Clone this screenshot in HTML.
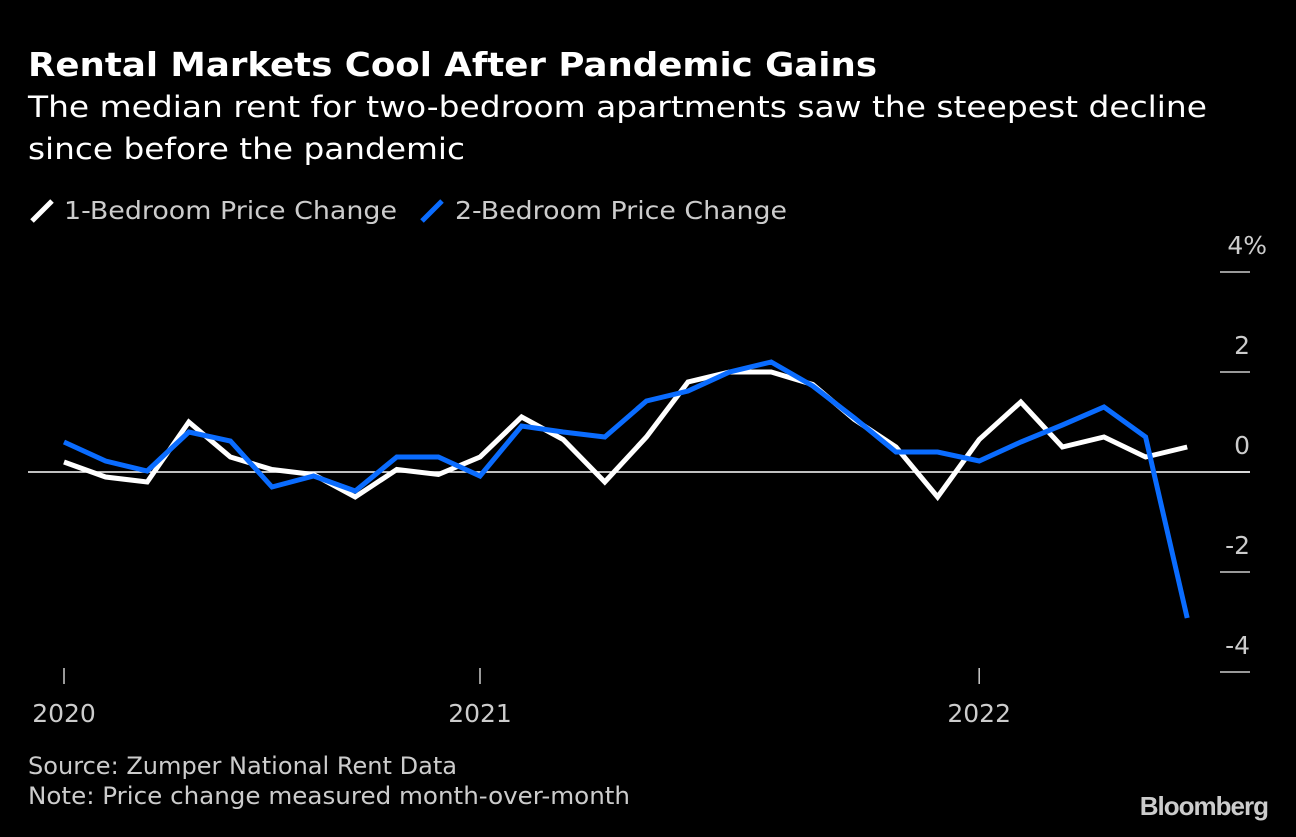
<!DOCTYPE html>
<html><head><meta charset="utf-8"><style>
body{margin:0;background:#000;width:1296px;height:832px;overflow:hidden;color:#fff}
svg text{font-family:"DejaVu Sans","Liberation Sans",sans-serif}
</style></head><body>
<svg width="1296" height="832" id="c">
<text x="28" y="76" font-size="33" font-weight="bold" fill="#fff" textLength="849" lengthAdjust="spacingAndGlyphs">Rental Markets Cool After Pandemic Gains</text>
<text x="28" y="117" font-size="29" fill="#fff" textLength="1179" lengthAdjust="spacingAndGlyphs">The median rent for two-bedroom apartments saw the steepest decline</text>
<text x="28" y="159" font-size="29" fill="#fff" textLength="437" lengthAdjust="spacingAndGlyphs">since before the pandemic</text>
<g><line x1="32" y1="221" x2="52" y2="201" stroke="#fff" stroke-width="5"/><text x="64" y="219" font-size="25" fill="#ccc" textLength="333" lengthAdjust="spacingAndGlyphs">1-Bedroom Price Change</text></g>
<g><line x1="422" y1="221" x2="442" y2="201" stroke="#0a6cff" stroke-width="5"/><text x="455" y="219" font-size="25" fill="#ccc" textLength="332" lengthAdjust="spacingAndGlyphs">2-Bedroom Price Change</text></g>
<g id="axes"></g><g id="series"></g>
<text x="28" y="774" font-size="24" fill="#ccc" textLength="429" lengthAdjust="spacingAndGlyphs">Source: Zumper National Rent Data</text>
<text x="28" y="804" font-size="24" fill="#ccc" textLength="602" lengthAdjust="spacingAndGlyphs">Note: Price change measured month-over-month</text>
<text x="1268" y="815" font-size="26" font-weight="bold" fill="#ccc" text-anchor="end" style="font-family:'Liberation Sans',sans-serif" letter-spacing="-1">Bloomberg</text>
</svg>
<script>
const oneBed=[0.2,-0.1,-0.2,1.0,0.3,0.05,-0.05,-0.5,0.05,-0.05,0.3,1.1,0.65,-0.2,0.7,1.8,2.0,2.0,1.75,1.05,0.5,-0.5,0.65,1.4,0.5,0.7,0.3,0.5];
const twoBed=[0.6,0.22,0.02,0.8,0.62,-0.3,-0.08,-0.38,0.3,0.3,-0.08,0.92,0.8,0.7,1.42,1.62,2.0,2.2,1.72,1.08,0.4,0.4,0.22,0.6,0.94,1.3,0.7,-2.92];
const yTicks=[4,2,0,-2,-4];
const yTickLabels=["4%","2","0","-2","-4"];
const xTickIdx=[0,10,22];
const xTickLabels=["2020","2021","2022"];
const X=i=>64+i*41.6, Y=v=>472-v*50;
const NS="http://www.w3.org/2000/svg";
const ax=document.getElementById('axes'), se=document.getElementById('series');
function mk(t,a,p){const e=document.createElementNS(NS,t);for(const k in a)e.setAttribute(k,a[k]);p.appendChild(e);return e;}
yTicks.forEach((v,i)=>{
 const l=mk('line',{x1:1220,x2:1250,y1:Y(v),y2:Y(v),stroke:'#ccc','stroke-width':1.5},ax);
 
 
 const lab=yTickLabels[i];
 const t=mk('text',{x:lab.indexOf('%')>=0?1267:1250,y:Y(v)-18,'font-size':25,fill:'#ccc','text-anchor':'end'},ax);t.textContent=lab;
 
 
});
const z=mk('line',{x1:28,x2:1250,y1:Y(0),y2:Y(0),stroke:'#fff','stroke-width':1.5},ax);


xTickIdx.forEach((k,i)=>{
 const l=mk('line',{x1:X(k),x2:X(k),y1:668,y2:684,stroke:'#ccc','stroke-width':1.5},ax);
 
 
 const t=mk('text',{x:X(k),y:722,'font-size':25,fill:'#ccc','text-anchor':'middle'},ax);t.textContent=xTickLabels[i];
 
 
});
[[oneBed,'#fff','line-1bed'],[twoBed,'#0a6cff','line-2bed']].forEach(([d,c,n])=>{
 const p=mk('polyline',{points:d.map((v,i)=>X(i)+','+Y(v)).join(' '),fill:'none',stroke:c,'stroke-width':5,'stroke-linejoin':'miter'},se);
 
 
});
</script>
</body></html>
